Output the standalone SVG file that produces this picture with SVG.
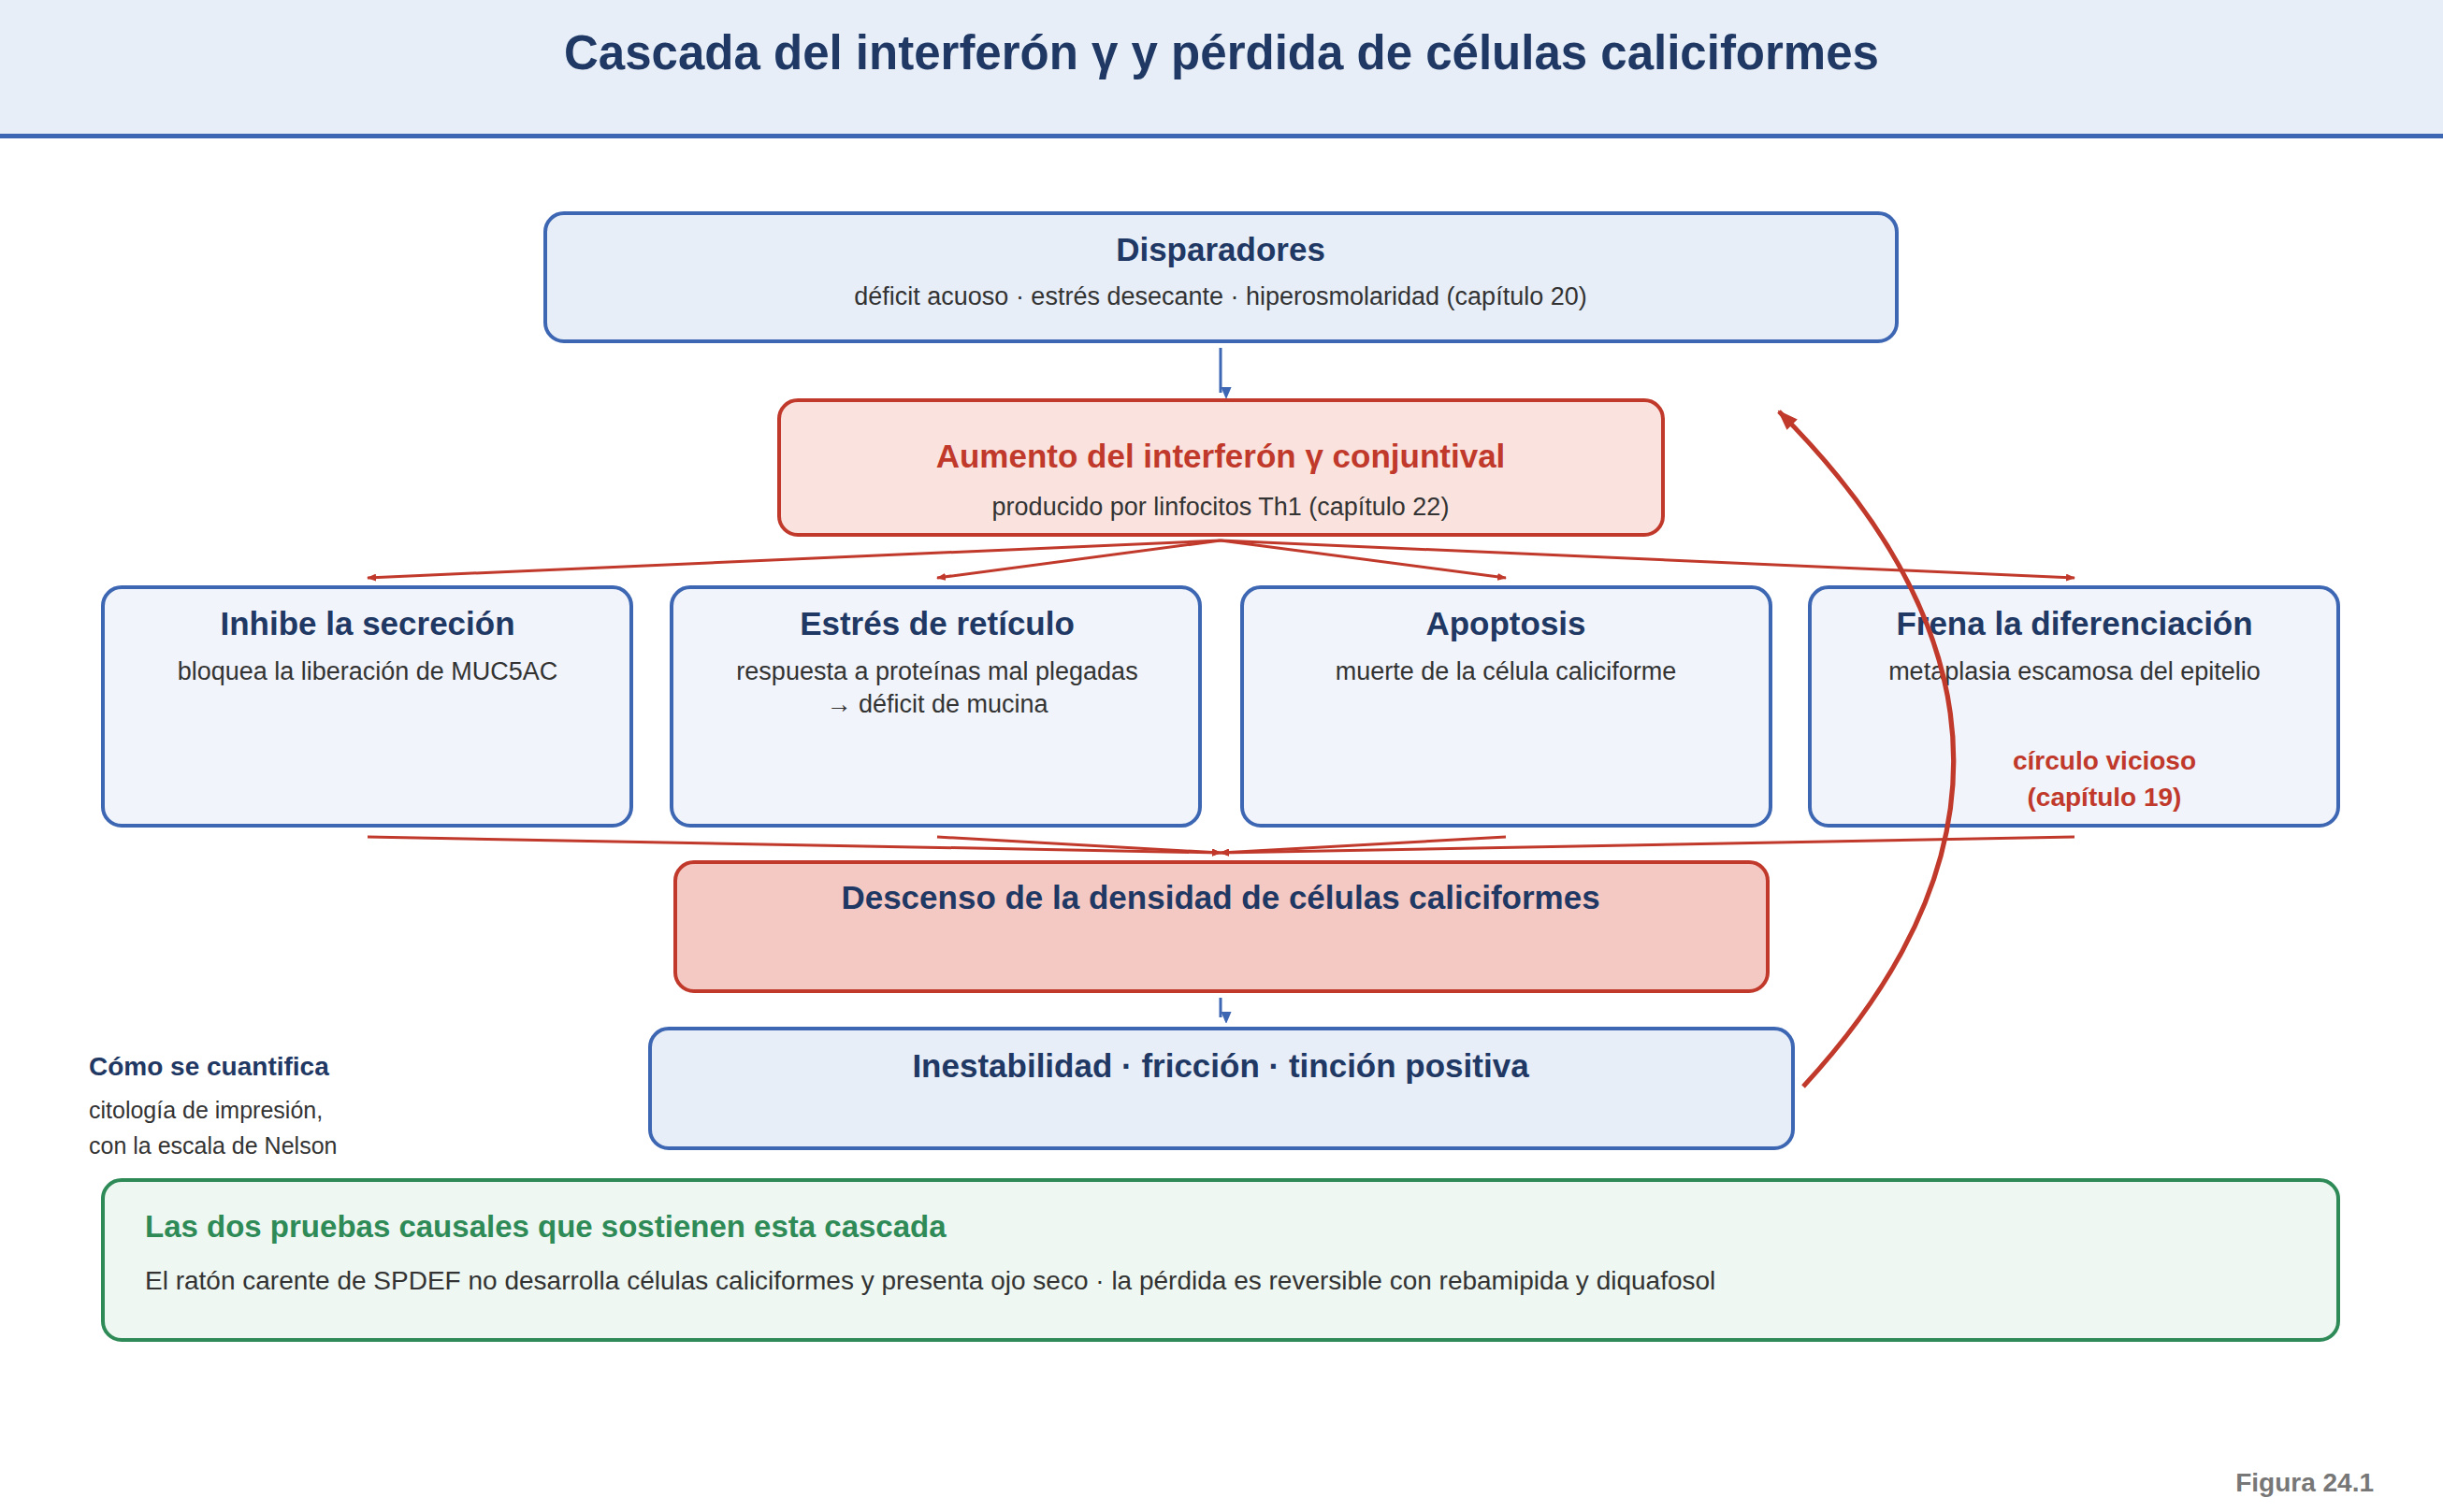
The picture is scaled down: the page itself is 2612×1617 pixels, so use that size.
<svg xmlns="http://www.w3.org/2000/svg" width="2612" height="1617" viewBox="0 0 2612 1617">
<style>
text{font-family:"Liberation Sans",Arial,sans-serif}
.t{font-size:35px;font-weight:bold;fill:#1f3864;text-anchor:middle}
.s{font-size:27px;fill:#333;text-anchor:middle}
.bb{fill:#e7eef8;stroke:#3d66b3;stroke-width:4}
.bl{fill:#f1f4fa;stroke:#3d66b3;stroke-width:4}
.rb{fill:#fae3df;stroke:#c0392b;stroke-width:4}
.ra{stroke:#c0392b;stroke-width:3;fill:none;marker-end:url(#ar)}
.ba{stroke:#3d66b3;stroke-width:3;fill:none;marker-end:url(#ab)}
</style>
<defs>
<marker id="ar" markerWidth="10" markerHeight="8" refX="9" refY="4" orient="auto" markerUnits="userSpaceOnUse" viewBox="0 0 10 8"><path d="M0,0L10,4L0,8z" fill="#c0392b"/></marker>
<marker id="ar2" markerWidth="22" markerHeight="16" refX="20" refY="8" orient="auto" markerUnits="userSpaceOnUse" viewBox="0 0 22 16"><path d="M0,0L22,8L0,16z" fill="#c0392b"/></marker>
<marker id="ab" markerWidth="12" markerHeight="14" refX="6" refY="13" orient="auto" markerUnits="userSpaceOnUse" viewBox="0 0 12 14"><path d="M0,0L12,0L6,14z" fill="#3d66b3" transform="rotate(-90 6 7)"/></marker>
</defs>
<rect width="2612" height="1617" fill="#fff"/>
<rect width="2612" height="146" fill="#e7eef8"/>
<rect y="143" width="2612" height="5" fill="#3d66b3"/>
<text x="1306" y="74" style="font-size:51px;font-weight:bold;fill:#1f3864;text-anchor:middle">Cascada del interferón γ y pérdida de células caliciformes</text>
<g id="connectors">
<line class="ba" x1="1305" y1="372" x2="1305" y2="420"/>
<line class="ra" x1="1305" y1="578" x2="393" y2="618"/>
<line class="ra" x1="1305" y1="578" x2="1002" y2="618"/>
<line class="ra" x1="1305" y1="578" x2="1610" y2="618"/>
<line class="ra" x1="1305" y1="578" x2="2218" y2="618"/>
<line class="ra" x1="393" y1="895" x2="1305" y2="912"/>
<line class="ra" x1="1002" y1="895" x2="1305" y2="912"/>
<line class="ra" x1="1610" y1="895" x2="1305" y2="912"/>
<line class="ra" x1="2218" y1="895" x2="1305" y2="912"/>
<line class="ba" x1="1305" y1="1067" x2="1305" y2="1088"/>
</g>
<g id="disparadores"><rect class="bb" x="583" y="228" width="1445" height="137" rx="20"/>
<text class="t" x="1305" y="279">Disparadores</text>
<text class="s" x="1305" y="326">déficit acuoso · estrés desecante · hiperosmolaridad (capítulo 20)</text></g>
<g id="aumento"><rect class="rb" x="833" y="428" width="945" height="144" rx="20"/>
<text class="t" x="1305" y="500" style="fill:#c0392b">Aumento del interferón γ conjuntival</text>
<text class="s" x="1305" y="551">producido por linfocitos Th1 (capítulo 22)</text></g>
<g id="inhibe"><rect class="bl" x="110" y="628" width="565" height="255" rx="20"/>
<text class="t" x="393" y="679">Inhibe la secreción</text>
<text class="s" x="393" y="727">bloquea la liberación de MUC5AC</text></g>
<g id="estres"><rect class="bl" x="718" y="628" width="565" height="255" rx="20"/>
<text class="t" x="1002" y="679">Estrés de retículo</text>
<text class="s" x="1002" y="727">respuesta a proteínas mal plegadas</text>
<text class="s" x="1002" y="762">→ déficit de mucina</text></g>
<g id="apoptosis"><rect class="bl" x="1328" y="628" width="565" height="255" rx="20"/>
<text class="t" x="1610" y="679">Apoptosis</text>
<text class="s" x="1610" y="727">muerte de la célula caliciforme</text></g>
<g id="frena"><rect class="bl" x="1935" y="628" width="565" height="255" rx="20"/>
<text class="t" x="2218" y="679">Frena la diferenciación</text>
<text class="s" x="2218" y="727">metaplasia escamosa del epitelio</text></g>
<g id="descenso"><rect x="722" y="922" width="1168" height="138" rx="20" fill="#f5c9c3" stroke="#c0392b" stroke-width="4"/>
<text class="t" x="1305" y="972">Descenso de la densidad de células caliciformes</text></g>
<g id="inestabilidad"><rect class="bb" x="695" y="1100" width="1222" height="128" rx="20"/>
<text class="t" x="1305" y="1152">Inestabilidad · fricción · tinción positiva</text></g>
<g id="loop">
<path d="M1928,1162 Q2262,800 1902,440" stroke="#c0392b" stroke-width="5" fill="none" marker-end="url(#ar2)"/>
<text x="2250" y="823" style="font-size:28px;font-weight:bold;fill:#c0392b;text-anchor:middle">círculo vicioso</text>
<text x="2250" y="862" style="font-size:28px;font-weight:bold;fill:#c0392b;text-anchor:middle">(capítulo 19)</text>
</g>
<g id="cuantifica">
<text x="95" y="1150" style="font-size:28px;font-weight:bold;fill:#1f3864">Cómo se cuantifica</text>
<text x="95" y="1196" style="font-size:25px;fill:#333">citología de impresión,</text>
<text x="95" y="1234" style="font-size:25px;fill:#333">con la escala de Nelson</text>
</g>
<g id="pruebas"><rect x="110" y="1262" width="2390" height="171" rx="20" fill="#eef7f1" stroke="#2e8b57" stroke-width="4"/>
<text x="155" y="1323" style="font-size:33px;font-weight:bold;fill:#2e8b57">Las dos pruebas causales que sostienen esta cascada</text>
<text x="155" y="1379" style="font-size:28px;fill:#333">El ratón carente de SPDEF no desarrolla células caliciformes y presenta ojo seco · la pérdida es reversible con rebamipida y diquafosol</text></g>
<text x="2538" y="1595" style="font-size:28px;font-weight:bold;fill:#777;text-anchor:end">Figura 24.1</text>
</svg>
